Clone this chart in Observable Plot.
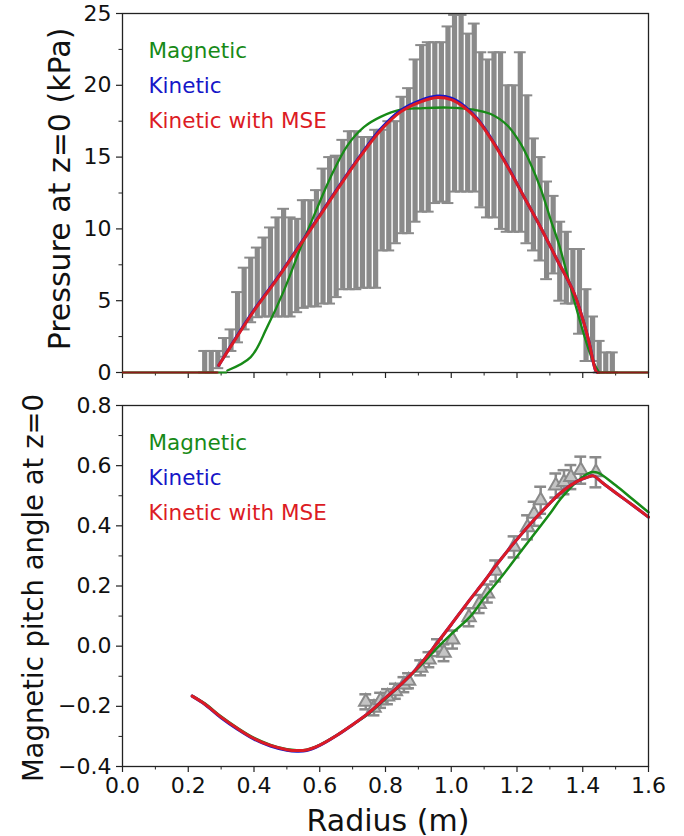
<!DOCTYPE html>
<html>
<head>
<meta charset="utf-8">
<script src="https://cdn.jsdelivr.net/npm/d3@7"></script>
<script src="https://cdn.jsdelivr.net/npm/@observablehq/plot@0.6"></script>
<style>
  html, body { margin: 0; padding: 0; background: #fff; }
  #wrap { position: relative; width: 684px; height: 836px; font-family: "DejaVu Sans", sans-serif; color: #111; }
  .panel { position: absolute; left: 0; }
  .ylab { position: absolute; white-space: nowrap; transform: translate(-50%, -50%) rotate(-90deg); }
  .xlab { position: absolute; white-space: nowrap; transform: translate(-50%, -50%); }
</style>
</head>
<body>
<div id="wrap"></div>
<script>
// ---------- tick values ----------
const xTicks = [0, 0.2, 0.4, 0.6, 0.8, 1.0, 1.2, 1.4, 1.6];
const xMinor = [0.1, 0.3, 0.5, 0.7, 0.9, 1.1, 1.3, 1.5];
const pTicks = [0, 5, 10, 15, 20, 25];
const pMinor = [2.5, 7.5, 12.5, 17.5, 22.5];
const aTicks = [-0.4, -0.2, 0.0, 0.2, 0.4, 0.6, 0.8];
const aMinor = [-0.3, -0.1, 0.1, 0.3, 0.5, 0.7];

const legendLabels = ["Magnetic", "Kinetic", "Kinetic with MSE"];

// ---------- top panel: pressure error bars ----------
const barR = [0.25,0.27,0.29,0.31,0.33,0.35,0.37,0.39,0.41,0.43,0.45,0.47,0.49,0.51,0.53,0.55,0.57,0.59,0.61,0.63,
  0.65,0.67,0.69,0.71,0.73,0.75,0.77,0.79,0.81,0.83,0.85,0.87,0.89,0.91,0.93,0.95,0.97,0.99,1.01,1.03,
  1.05,1.07,1.09,1.11,1.13,1.15,1.17,1.19,1.21,1.23,1.25,1.27,1.29,1.31,1.33,1.35,1.37,1.39,1.41,1.43,
  1.45,1.47,1.49];
const pHigh = [1.5,1.5,1.5,2.4,3.0,5.6,7.3,8.0,8.7,9.4,10.1,10.8,11.4,10.8,10.7,12.0,12.0,12.7,14.2,15.0,
  15.1,16.2,16.8,16.8,16.4,16.4,16.9,16.9,17.5,17.5,19.2,19.8,21.8,22.8,23.0,23.0,23.0,24.1,24.9,24.9,
  23.6,24.3,22.3,21.8,22.3,22.3,20.0,20.0,22.3,19.3,16.3,15.0,13.3,12.3,10.5,9.8,8.6,8.6,5.8,3.9,
  2.2,1.4,1.4];
const pLow = [0,0,0.3,1.1,1.5,2.1,3.0,3.5,3.85,3.9,3.9,3.9,3.9,3.9,4.2,4.5,4.6,4.6,4.8,4.8,
  5.25,5.8,5.8,5.8,5.9,5.9,5.9,8.5,8.5,9.0,9.7,9.7,10.5,11.2,11.2,11.8,11.9,11.8,12.6,12.6,
  12.6,12.6,11.5,10.8,10.8,10.0,9.8,9.8,9.8,9.0,8.5,7.8,6.5,6.9,5.0,4.8,4.8,2.7,0.8,0.8,
  0,0,0];

// ---------- top panel: pressure curves ----------
const magR = [0.319,0.39,0.44,0.491,0.542,0.593,0.633,0.684,0.735,0.785,0.846,0.907,0.988,1.069,1.12,1.171,1.212,1.242,1.272,1.303,1.328,1.374,1.415,1.435,1.45];
const magP = [0.14,1.07,3.16,5.7,8.7,11.5,13.6,15.8,17.1,17.8,18.3,18.4,18.45,18.3,18.0,17.2,15.9,14.5,12.8,10.6,8.9,5.0,1.8,0.6,0];
const magZero = [[0, 0.319], [1.45, 1.6]];

const kinR = [0.293,0.34,0.40,0.47,0.55,0.60,0.664,0.725,0.785,0.846,0.907,0.958,1.0,1.04,1.08,1.12,1.171,1.222,1.272,1.323,1.374,1.415,1.44,1.445];
const kinP = [0.5,2.25,4.35,6.55,9.25,10.95,13.15,15.15,16.95,18.25,18.95,19.25,19.1,18.55,17.65,16.35,14.4,12.2,10.1,7.8,5.5,2.5,0.1,0];
const mseP = [0.5,2.2,4.3,6.5,9.2,10.9,13.1,15.1,16.85,18.15,18.85,19.15,19.0,18.45,17.6,16.3,14.35,12.2,10.1,7.8,5.5,2.5,0.1,0];
const kinZero = [[0, 0.293], [1.445, 1.6]];

// ---------- bottom panel: pitch angle ----------
const angR = [0.212,0.25,0.30,0.35,0.40,0.45,0.50,0.53,0.56,0.60,0.65,0.70,0.75,0.80,0.856,0.90,0.958,1.00,1.05,1.10,1.141,1.20,1.252,1.30,1.333,1.38,1.415,1.432,1.46,1.50,1.55,1.60];
const angMse = [-0.166,-0.192,-0.236,-0.274,-0.307,-0.330,-0.344,-0.347,-0.345,-0.329,-0.298,-0.261,-0.221,-0.172,-0.118,-0.068,0.012,0.072,0.145,0.215,0.275,0.355,0.42,0.475,0.51,0.546,0.562,0.566,0.543,0.51,0.47,0.429];
const angKin = [-0.166,-0.193,-0.238,-0.276,-0.309,-0.332,-0.346,-0.349,-0.347,-0.330,-0.298,-0.261,-0.221,-0.172,-0.118,-0.068,0.012,0.072,0.145,0.215,0.275,0.355,0.42,0.475,0.51,0.546,0.562,0.566,0.543,0.51,0.47,0.429];
const magAR = [0.212,0.25,0.30,0.35,0.40,0.45,0.50,0.53,0.56,0.60,0.65,0.70,0.75,0.80,0.85,0.90,0.958,1.00,1.059,1.10,1.151,1.20,1.252,1.30,1.333,1.38,1.425,1.445,1.50,1.55,1.60];
const magA = [-0.165,-0.190,-0.234,-0.272,-0.305,-0.328,-0.343,-0.346,-0.344,-0.328,-0.297,-0.261,-0.224,-0.175,-0.125,-0.072,-0.005,0.04,0.10,0.16,0.228,0.298,0.372,0.44,0.49,0.545,0.578,0.577,0.535,0.49,0.445];

const mseR = [0.740,0.765,0.785,0.806,0.830,0.856,0.870,0.907,0.932,0.958,0.978,1.004,1.054,1.085,1.110,1.135,1.191,1.232,1.252,1.272,1.318,1.343,1.364,1.394,1.440];
const mseA = [-0.185,-0.205,-0.180,-0.168,-0.150,-0.128,-0.115,-0.072,-0.045,-0.005,-0.022,0.022,0.096,0.140,0.175,0.250,0.330,0.395,0.440,0.485,0.534,0.545,0.562,0.585,0.578];
const mseErr = [0.025,0.025,0.025,0.025,0.025,0.025,0.025,0.025,0.025,0.028,0.028,0.03,0.03,0.03,0.03,0.035,0.035,0.04,0.04,0.045,0.04,0.04,0.04,0.045,0.05];

// ---------- styles ----------
const GREEN = "#178a17", BLUE = "#1616c8", RED = "#dc1b24", GRAY = "#8a8a8a";
const legendColors = [GREEN, BLUE, RED];
const FONT = "DejaVu Sans";
const CAP = 0.018; // half cap width in x units

const bars = barR.map((r, i) => ({r, lo: pLow[i], hi: pHigh[i]}));
const magLine = magR.map((r, i) => ({r, v: magP[i]}));
const kinLine = kinR.map((r, i) => ({r, v: kinP[i]}));
const mseLine = kinR.map((r, i) => ({r, v: mseP[i]}));
const angMseLine = angR.map((r, i) => ({r, v: angMse[i]}));
const angKinLine = angR.map((r, i) => ({r, v: angKin[i]}));
const angMagLine = magAR.map((r, i) => ({r, v: magA[i]}));
const msePts = mseR.map((r, i) => ({r, v: mseA[i], lo: mseA[i] - mseErr[i], hi: mseA[i] + mseErr[i]}));

function legendMarks() {
  return legendLabels.map((t, i) => Plot.text([t], {
    frameAnchor: "top-left", dx: 26, dy: 29 + i * 35, text: d => d,
    fill: legendColors[i], fontSize: 21.5, textAnchor: "start"
  }));
}

function commonAxes(yT, yM, yFmt, showX) {
  return [
    Plot.frame({stroke: "#222", strokeWidth: 1.3}),
    Plot.axisX(xTicks, {tickSize: 6, tickPadding: 5, fontSize: 22, label: null,
      tickFormat: showX ? d3.format(".1f") : () => "", stroke: "#222", strokeWidth: 1.2}),
    Plot.axisX(xMinor, {tickSize: 3.5, label: null, tickFormat: () => "", stroke: "#222", strokeWidth: 1}),
    Plot.axisY(yT, {tickSize: 6, tickPadding: 5, fontSize: 22, label: null, tickFormat: yFmt, stroke: "#222", strokeWidth: 1.2}),
    Plot.axisY(yM, {tickSize: 3.5, label: null, tickFormat: () => "", stroke: "#222", strokeWidth: 1})
  ];
}

const topPlot = Plot.plot({
  width: 684, height: 390,
  marginLeft: 122, marginRight: 36, marginTop: 13, marginBottom: 18,
  x: {domain: [0, 1.6]},
  y: {domain: [0, 25]},
  style: {fontFamily: FONT, fontSize: "22px", color: "#111", background: "transparent", overflow: "visible"},
  marks: [
    Plot.ruleX(bars, {x: "r", y1: "lo", y2: "hi", stroke: GRAY, strokeWidth: 5.2}),
    Plot.ruleY(bars, {y: "hi", x1: d => d.r - CAP, x2: d => d.r + CAP, stroke: GRAY, strokeWidth: 2}),
    Plot.ruleY(bars, {y: "lo", x1: d => d.r - CAP, x2: d => d.r + CAP, stroke: GRAY, strokeWidth: 2}),
    Plot.line(magLine, {x: "r", y: "v", stroke: GREEN, strokeWidth: 2.3, curve: "catmull-rom"}),
    Plot.line(kinLine, {x: "r", y: "v", stroke: BLUE, strokeWidth: 3, curve: "catmull-rom"}),
    Plot.line(mseLine, {x: "r", y: "v", stroke: RED, strokeWidth: 3, curve: "catmull-rom"}),
    ...commonAxes(pTicks, pMinor, d3.format("d"), false),
    Plot.ruleY(magZero, {y: 0, x1: d => d[0], x2: d => d[1], stroke: GREEN, strokeWidth: 2}),
    Plot.ruleY(kinZero, {y: 0, x1: d => d[0], x2: d => d[1], stroke: "#8b1a1a", strokeWidth: 2}),
    ...legendMarks()
  ]
});

const bottomPlot = Plot.plot({
  width: 684, height: 446,
  marginLeft: 122, marginRight: 36, marginTop: 15, marginBottom: 70,
  x: {domain: [0, 1.6]},
  y: {domain: [-0.4, 0.8]},
  style: {fontFamily: FONT, fontSize: "22px", color: "#111", background: "transparent", overflow: "visible"},
  marks: [
    Plot.ruleX(msePts, {x: "r", y1: "lo", y2: "hi", stroke: GRAY, strokeWidth: 2.5}),
    Plot.ruleY(msePts, {y: "hi", x1: d => d.r - CAP, x2: d => d.r + CAP, stroke: GRAY, strokeWidth: 2.5}),
    Plot.ruleY(msePts, {y: "lo", x1: d => d.r - CAP, x2: d => d.r + CAP, stroke: GRAY, strokeWidth: 2.5}),
    Plot.dot(msePts, {x: "r", y: "v", symbol: "triangle", r: 5, stroke: GRAY, strokeWidth: 2, fill: "#c4c4c4"}),
    Plot.line(angMagLine, {x: "r", y: "v", stroke: GREEN, strokeWidth: 2.5, curve: "catmull-rom"}),
    Plot.line(angKinLine, {x: "r", y: "v", stroke: BLUE, strokeWidth: 3, curve: "catmull-rom"}),
    Plot.line(angMseLine, {x: "r", y: "v", stroke: RED, strokeWidth: 3, curve: "catmull-rom"}),
    ...commonAxes(aTicks, aMinor, d3.format(".1f"), true),
    ...legendMarks()
  ]
});

const wrap = document.getElementById("wrap");
topPlot.classList.add("panel"); topPlot.style.top = "0px";
bottomPlot.classList.add("panel"); bottomPlot.style.top = "390px";
wrap.appendChild(topPlot);
wrap.appendChild(bottomPlot);

function addLabel(cls, text, x, y, size) {
  const d = document.createElement("div");
  d.className = cls;
  d.textContent = text;
  d.style.left = x + "px";
  d.style.top = y + "px";
  d.style.fontSize = size + "px";
  wrap.appendChild(d);
}
addLabel("ylab", "Pressure at z=0 (kPa)", 59, 189, 30);
addLabel("ylab", "Magnetic pitch angle at z=0", 33, 588, 27.5);
addLabel("xlab", "Radius (m)", 388, 820, 30);
</script>
</body>
</html>
